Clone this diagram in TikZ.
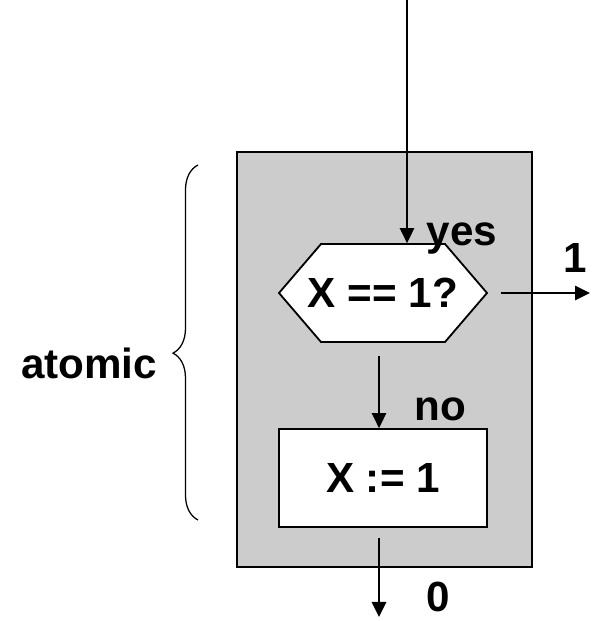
\documentclass[tikz,border=0pt]{standalone}
\usepackage{fontspec}
\setmainfont{Liberation Sans}
\usetikzlibrary{arrows.meta,decorations.pathreplacing}

\begin{document}
\begin{tikzpicture}[line width=1.3pt, >={Triangle[length=0.375cm,width=0.36cm]},
  every node/.style={font=\fontsize{30}{36}\selectfont\bfseries},
  lbl/.style={inner sep=0pt},
  stepbox/.style={fill=white, minimum width=5.2cm, minimum height=2.45cm, inner sep=0pt}]
  \useasboundingbox (0,0) rectangle (15.025,15.525);
  % atomic region
  \node[draw, fill=gray!40, minimum width=7.375cm, minimum height=10.375cm, inner sep=0pt] (atom) at (9.6125,6.5375) {};
  % test (hexagon) and assignment
  \coordinate (testc) at (9.575,8.2);
  \draw[fill=white] (testc) ++(-2.6,0) -- ++(1.05,1.225) -- ++(3.1,0) -- ++(1.05,-1.225)
    -- ++(-1.05,-1.225) -- ++(-3.1,0) -- cycle;
  \node[stepbox, fill=none] (test) at (testc) {X == 1?};
  \node[stepbox, draw] (set) at (9.575,3.575) {X := 1};
  % free ends
  \coordinate (in) at (10.175,15.525);
  \coordinate (one) at (14.75,8.2);
  \coordinate (zero) at (9.475,0.1);
  % arrows
  \draw[->] (in) -- (in |- test.north);
  \draw[->, shorten <=0.325cm] (test.east) -- (one);
  \draw[->, shorten <=0.325cm] (test.south -| zero) -- (set.north -| zero);
  \draw[->, shorten <=0.25cm] (set.south -| zero) -- (zero);
  % labels
  \node[lbl] (yes) at (11.55,9.55) {yes};
  \node[lbl] (yesval) at (14.375,9.075) {1};
  \node[lbl] (no) at (11.0,5.3) {no};
  \node[lbl] (noval) at (10.95,0.6) {0};
  % brace
  \draw[line width=0.9pt, decorate, decoration={brace, amplitude=0.625cm, aspect=0.47}] (4.95,2.525) -- (4.95,11.4);
  \node[lbl] (atomic) at (2.225,6.45) {atomic};
\end{tikzpicture}
\end{document}
